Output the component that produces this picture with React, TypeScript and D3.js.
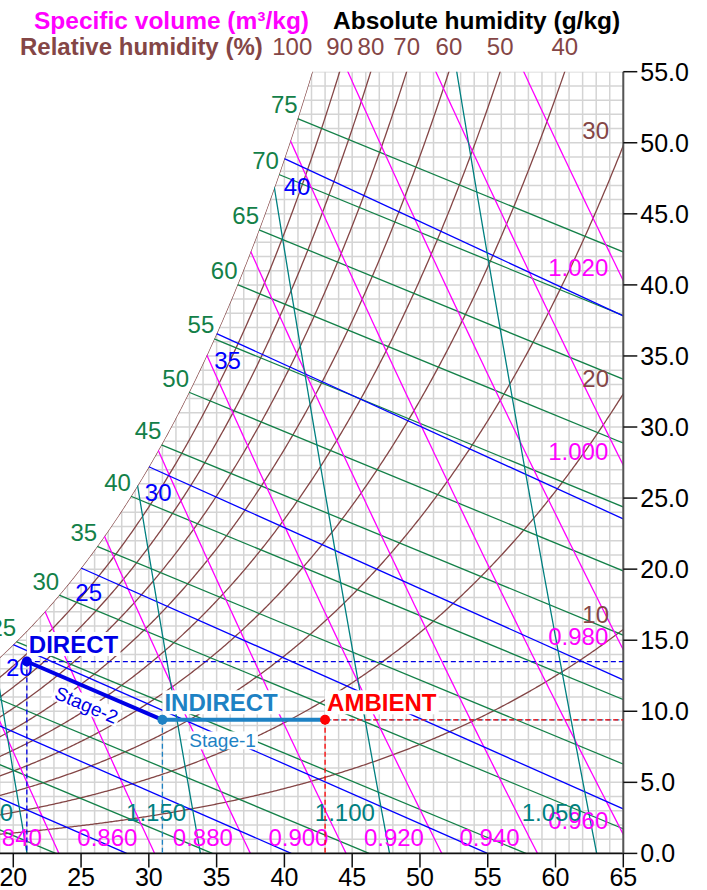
import React, { useLayoutEffect, useRef, useState } from "react";
import * as d3 from "d3";

// ---------- data ----------
const tempTicks = [20, 25, 30, 35, 40, 45, 50, 55, 60, 65];
const humTicks = [0, 5, 10, 15, 20, 25, 30, 35, 40, 45, 50, 55];
const rhValues = [10, 20, 30, 40, 50, 60, 70, 80, 90, 100];
const volumeValues = [0.84, 0.86, 0.88, 0.9, 0.92, 0.94, 0.96, 0.98, 1.0, 1.02];
const enthalpyValues = [10, 15, 20, 25, 30, 35, 40, 45, 50, 55, 60, 65, 70, 75];
const wetBulbValues = [10, 15, 20, 25, 30, 35, 40];
const densityValues = [1.05, 1.1, 1.15, 1.2];
const pointNames = ["DIRECT", "INDIRECT", "AMBIENT"];
const pointTemps = [21.0, 31.0, 43.0];
const pointHums = [13.5, 9.4, 9.4];
const stageNames = ["Stage-2", "Stage-1"];

// ---------- psychrometrics ----------
const P = 101.325;
const RA = 0.287042;
function psat(t: number) {
  const T = t + 273.15;
  return (
    Math.exp(
      -5.8002206e3 / T + 1.3914993 - 4.8640239e-2 * T + 4.1764768e-5 * T * T -
        1.4452093e-8 * T * T * T + 6.5459673 * Math.log(T)
    ) / 1000
  );
}
const wFromPv = (pv: number) => (0.621945 * pv) / (P - pv);
const wRH = (t: number, rh: number) => wFromPv((rh / 100) * psat(t)) * 1000;
const hsat = (t: number) => {
  const w = wFromPv(psat(t));
  return 1.006 * t + w * (2501 + 1.86 * t);
};
function tsatH(h: number) {
  let lo = -30, hi = 90;
  for (let i = 0; i < 60; i++) {
    const m = (lo + hi) / 2;
    if (hsat(m) < h) lo = m; else hi = m;
  }
  return (lo + hi) / 2;
}
const tVol = (v: number, wg: number) => (v * P) / (RA * (1 + 1.6078 * wg / 1000)) - 273.15;
const tRho = (r: number, wg: number) =>
  ((1 + wg / 1000) * P) / (RA * r * (1 + 1.6078 * wg / 1000)) - 273.15;

// ---------- layout ----------
const W = 707, H = 890;
const TMIN = 19.02, TMAX = 65;
const x = d3.scaleLinear().domain([TMIN, TMAX]).range([0, 623.3]);
const y = d3.scaleLinear().domain([0, 55]).range([853.4, 71.7]);
const FONT = "'Liberation Sans', Arial, Helvetica, sans-serif";
const C = {
  rh: "#844646",
  vol: "#ff00ff",
  h: "#138048",
  wb: "#0000ff",
  rho: "#008080",
  grid: "#d4d4d4",
  pts: ["#0000e6", "#1e82c4", "#ff0000"],
};

const line = d3
  .line<[number, number]>()
  .x((d) => x(d[0]))
  .y((d) => y(d[1]));

function BgText(props: any) {
  const { x: tx, y: ty, text, fill, size, weight, anchor, rotate, pad = 2 } = props;
  const ref = useRef<SVGTextElement>(null);
  const [bb, setBb] = useState<any>(null);
  useLayoutEffect(() => {
    if (ref.current) {
      const b = ref.current.getBBox();
      setBb({ x: b.x, y: b.y, w: b.width, h: b.height });
    }
  }, [text, tx, ty]);
  return (
    <g transform={rotate ? `rotate(${rotate},${tx},${ty})` : undefined}>
      {bb && (
        <rect x={bb.x - pad} y={bb.y + 1} width={bb.w + 2 * pad} height={bb.h - 3} fill="white" />
      )}
      <text
        ref={ref}
        x={tx}
        y={ty}
        fill={fill}
        fontSize={size}
        fontWeight={weight}
        textAnchor={anchor}
        fontFamily={FONT}
      >
        {text}
      </text>
    </g>
  );
}

export default function App() {
  // saturation clip region
  const satPts: [number, number][] = [[TMIN, 0]];
  for (let t = TMIN; t <= TMAX + 1e-9; t += 0.05) satPts.push([t, Math.min(55, wRH(t, 100))]);
  satPts.push([TMAX, Math.min(55, wRH(TMAX, 100))]);
  satPts.push([TMAX, 0]);
  const clipD = line(satPts) + "Z";

  const tSamples = d3.range(TMIN - 0.5, TMAX + 0.6, 0.1);
  const wSamples = d3.range(0, 80.01, 0.5);

  const rhPaths = rhValues.map((rh) => line(tSamples.map((t) => [t, wRH(t, rh)] as [number, number])));
  const hLines = enthalpyValues.map((L) => {
    const h = L * 2.326;
    const ts = tsatH(h);
    const ws = wFromPv(psat(ts)) * 1000;
    return { L, ts, ws, d: line([[ts, ws], [h / 1.006, 0]]) };
  });
  const wbLines = wetBulbValues.map((twb) => {
    const ws = wFromPv(psat(twb)) * 1000;
    const t0 = twb + psat(twb) / (0.00066 * P);
    return { twb, ws, d: line([[twb, ws], [t0, 0]]) };
  });
  const vPaths = volumeValues.map((v) => line(wSamples.map((wg) => [tVol(v, wg), wg] as [number, number])));
  const rhoPaths = densityValues.map((r) => line(wSamples.map((wg) => [tRho(r, wg), wg] as [number, number])));

  const vertGrid = d3.range(19, 66, 1);
  const horGrid = d3.range(0, 56, 1);

  // process
  const pts = pointNames.map((n, i) => ({ n, px: x(pointTemps[i]), py: y(pointHums[i]), c: C.pts[i] }));
  const stages = [
    { a: pts[0], b: pts[1], c: C.pts[0], off: 17, t: 0.47 },
    { a: pts[1], b: pts[2], c: C.pts[1], off: 21, t: 0.37 },
  ];

  const fs = 24;
  const cy = (v: number) => v + 0.355 * fs; // baseline for centered digits

  return (
    <svg width={W} height={H} style={{ position: "absolute", left: 0, top: 0, background: "white" }}>
      <defs>
        <clipPath id="sat">
          <path d={clipD} />
        </clipPath>
      </defs>

      <g clipPath="url(#sat)" fill="none">
        {vertGrid.map((t) => (
          <line key={"vg" + t} x1={x(t)} x2={x(t)} y1={y(0)} y2={y(55)} stroke={C.grid} strokeWidth={1.5} />
        ))}
        {horGrid.map((w) => (
          <line key={"hg" + w} x1={0} x2={x(TMAX)} y1={y(w)} y2={y(w)} stroke={C.grid} strokeWidth={1.5} />
        ))}
        {rhPaths.map((d, i) => (
          <path key={"rh" + i} d={d!} stroke={C.rh} strokeWidth={1.3} />
        ))}
        {hLines.map((l) => (
          <path key={"h" + l.L} d={l.d!} stroke={C.h} strokeWidth={1.3} />
        ))}
        {vPaths.map((d, i) => (
          <path key={"v" + i} d={d!} stroke={C.vol} strokeWidth={1.3} />
        ))}
        {wbLines.map((l) => (
          <path key={"wb" + l.twb} d={l.d!} stroke={C.wb} strokeWidth={1.3} />
        ))}
        {rhoPaths.map((d, i) => (
          <path key={"r" + i} d={d!} stroke={C.rho} strokeWidth={1.3} />
        ))}
      </g>

      {/* axes */}
      <line x1={0} x2={x(TMAX)} y1={y(0)} y2={y(0)} stroke="#111" strokeWidth={1.8} />
      <line x1={x(TMAX)} x2={x(TMAX)} y1={y(0)} y2={y(55)} stroke="#555" strokeWidth={2} />
      {humTicks.map((w) => (
        <g key={"yt" + w}>
          <line x1={x(TMAX)} x2={x(TMAX) + 14} y1={y(w)} y2={y(w)} stroke="#111" strokeWidth={1.5} />
          <text x={x(TMAX) + 17} y={y(w) + 0.358 * 25} fontSize={25} fontFamily={FONT} fill="#000">
            {d3.format(".1f")(w)}
          </text>
        </g>
      ))}
      {tempTicks.map((t) => (
        <g key={"xt" + t}>
          <line x1={x(t)} x2={x(t)} y1={y(0)} y2={y(0) + 14} stroke="#111" strokeWidth={1.5} />
          <text x={x(t)} y={886} fontSize={25} fontFamily={FONT} textAnchor="middle" fill="#000">
            {t}
          </text>
        </g>
      ))}

      {/* titles */}
      <text x={34} y={29} fontSize={24.5} fontWeight="bold" fontFamily={FONT} fill={C.vol}>
        Specific volume (m³/kg)
      </text>
      <text x={333} y={29} fontSize={24.5} fontWeight="bold" fontFamily={FONT} fill="#000">
        Absolute humidity (g/kg)
      </text>
      <text x={20} y={55} fontSize={24} fontWeight="bold" fontFamily={FONT} fill={C.rh}>
        Relative humidity (%)
      </text>

      {/* RH labels */}
      {rhValues.map((rh) => {
        const wRight = wRH(TMAX, rh);
        if (wRight > 55) {
          const tTop = d3.range(TMIN, TMAX, 0.01).find((t) => wRH(t, rh) >= 55)!;
          return (
            <text key={"rhl" + rh} x={x(tTop)} y={55} fontSize={fs} fontFamily={FONT} fill={C.rh}
              textAnchor={rh === 100 ? "end" : "middle"}>
              {rh}
            </text>
          );
        }
        return (
          <text key={"rhl" + rh} x={609} y={cy(y(wRight) - 15)} fontSize={fs} fontFamily={FONT} fill={C.rh} textAnchor="end">
            {rh}
          </text>
        );
      })}

      {/* enthalpy labels (only those reaching into view) */}
      {hLines
        .filter((l) => x(l.ts) > 5)
        .map((l) => (
          <text key={"hl" + l.L} x={x(l.ts)} y={cy(y(l.ws) - 14)} fontSize={fs} fontFamily={FONT} fill={C.h} textAnchor="end">
            {l.L}
          </text>
        ))}

      {/* wet bulb labels */}
      {wbLines
        .filter((l) => x(l.twb) > 0)
        .map((l) => (
          <text key={"wbl" + l.twb}
            x={x(l.twb) + 6 + 0.33 * (l.twb - 20)}
            y={cy(y(l.ws) + Math.min(28, 22.5 + 0.3 * (l.twb - 20)))}
            fontSize={fs} fontFamily={FONT} fill={C.wb} textAnchor="middle">
            {l.twb}
          </text>
        ))}

      {/* specific volume labels */}
      {volumeValues.map((v) => {
        const t0 = tVol(v, 0);
        if (t0 <= TMAX) {
          return (
            <text key={"vl" + v} x={x(tVol(v, 1.1)) - 10} y={cy(y(1.1))} fontSize={fs} fontFamily={FONT} fill={C.vol} textAnchor="end">
              {d3.format(".3f")(v)}
            </text>
          );
        }
        const wr = ((v * P) / (RA * (TMAX + 273.15)) - 1) / 1.6078 * 1000;
        if (wr > 55) return null;
        return (
          <text key={"vl" + v} x={x(TMAX) - 15} y={cy(y(wr) - 13.5)} fontSize={fs} fontFamily={FONT} fill={C.vol} textAnchor="end">
            {d3.format(".3f")(v)}
          </text>
        );
      })}

      {/* density labels */}
      {densityValues.map((r) => (
        <text key={"rl" + r} x={x(tRho(r, 2.9)) - 7} y={cy(y(2.9))} fontSize={fs} fontFamily={FONT} fill={C.rho} textAnchor="end">
          {d3.format(".3f")(r)}
        </text>
      ))}

      {/* process dashed guides */}
      {pts.map((p, i) => (
        <g key={"dg" + i} fill="none" strokeWidth={1.3} strokeDasharray="5,3">
          <line x1={p.px} x2={x(TMAX)} y1={p.py} y2={p.py} stroke={p.c} strokeDashoffset={i * 4} />
          <line x1={p.px} x2={p.px} y1={p.py} y2={y(0)} stroke={p.c} />
        </g>
      ))}

      {/* process lines */}
      {stages.map((s, i) => (
        <line key={"st" + i} x1={s.a.px} y1={s.a.py} x2={s.b.px} y2={s.b.py} stroke={s.c} strokeWidth={4} />
      ))}
      {stages.map((s, i) => {
        const ang = Math.atan2(s.b.py - s.a.py, s.b.px - s.a.px);
        const mx = s.a.px + (s.b.px - s.a.px) * s.t - Math.sin(ang) * s.off;
        const my = s.a.py + (s.b.py - s.a.py) * s.t + Math.cos(ang) * s.off;
        return (
          <BgText key={"stl" + i} x={mx} y={my + 6.6} text={stageNames[i]} fill={s.c} size={19}
            anchor="middle" rotate={(ang * 180) / Math.PI} pad={2} />
        );
      })}
      {pts.map((p, i) => (
        <circle key={"pt" + i} cx={p.px} cy={p.py} r={5} fill={p.c} />
      ))}
      {pts.map((p, i) => (
        <BgText key={"pl" + i} x={p.px + 2} y={p.py - 8.5} text={p.n} fill={p.c} size={24} weight="bold" anchor="start" pad={2} />
      ))}
    </svg>
  );
}
